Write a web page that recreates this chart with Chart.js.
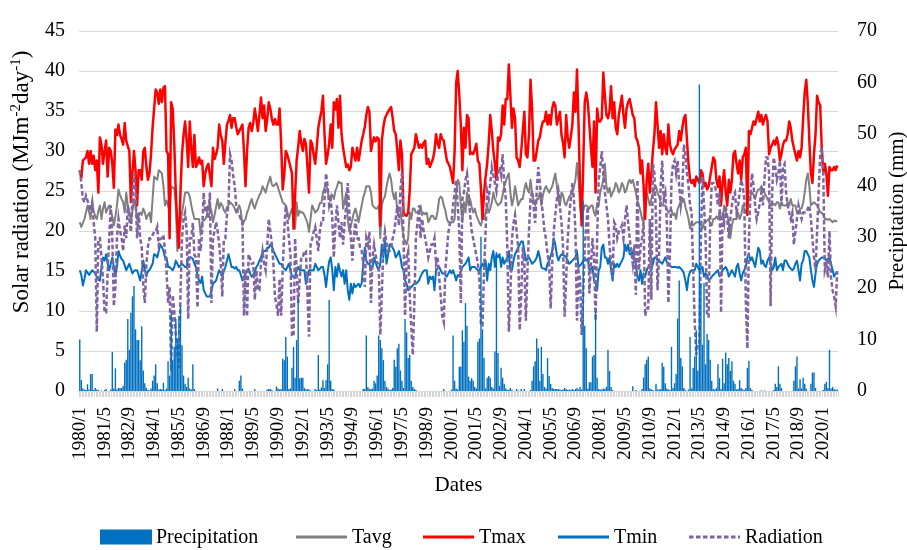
<!DOCTYPE html>
<html>
<head>
<meta charset="utf-8">
<script src="https://cdn.jsdelivr.net/npm/chart.js@4.4.1/dist/chart.umd.min.js"></script>
<style>
html,body{margin:0;padding:0;background:#fff;}
#wrap{width:907px;height:550px;}
</style>
</head>
<body>
<div id="wrap"><canvas id="c" width="907" height="550"></canvas></div>
<script>
// ---- Tick labels shown on the date axis ----
const tickLabels = ['1980/1','1981/5','1982/9','1984/1','1985/5','1986/9','1988/1','1989/5','1990/9','1992/1','1993/5','1994/9','1996/1','1997/5','1998/9','2000/1','2001/5','2002/9','2004/1','2005/5','2006/9','2008/1','2009/5','2010/9','2012/1','2013/5','2014/9','2016/1','2017/5','2018/9','2020/1'];

// ---- Monthly series, 1980/1 .. 2020/10 ----
const tmax = [
27.6,26.6,28.8,29,29.2,30,28.4,30,28.4,29.4,27.6,28.8, // 1980
24.8,31.7,30.8,28.4,30,31.3,26.8,30.4,30,28.4,25.4,32.7, // 1981
32,33.3,32,31.5,30.8,33.5,31.3,30.6,30,23.6,27.2,30, // 1982
27.6,23.2,27.6,27.6,26.4,30,30.4,28,26.4,27.2,29.6,32.9, // 1983
35.3,37.7,37.3,35.9,37.7,36.1,37.9,38.1,30,29.6,19.1,36.1, // 1984
35.3,30.8,24.8,20.7,17.9,24.8,29.6,32,33.7,31.3,28,33.7, // 1985
30.4,28,32,28,28.4,29.2,28.4,28.8,25.6,27.2,28,28.4, // 1986
27,25.6,30.4,29,29.6,30.4,33.3,32,31.3,28.4,31,33.3, // 1987
33.8,34.5,32.9,34.1,34.1,33,32.1,32.5,32.9,33.3,30,25.6, // 1988
30,32.9,33.5,32.5,33.5,35.3,34,32.5,34.5,36.7,34.1,35.7, // 1989
32.5,34,36.1,35.3,34,33.3,34,33.3,33.3,35.3,30.9,25.2, // 1990
27,30,29.5,28.8,28,27.2,20.3,24.4,28.8,30.5,32.5,31, // 1991
30,31.5,30.9,28,24.8,31.3,30.9,29.5,28.4,30.5,32.9,34, // 1992
35,36.9,32.1,28.4,29.5,30.9,33.3,30.4,36.1,35.2,36.5,32.9, // 1993
36.9,32.1,30.4,29.2,28,28.3,27.6,28,30.4,29.6,28.8,30.4, // 1994
28.8,30,31.3,32.1,33,34.5,35.5,34.9,30,31,31.7,31.2, // 1995
31.7,31.5,20.7,31.3,33,34.1,34.5,34.9,35.2,35.5,34.1,32.5, // 1996
32.1,30,27.6,31.3,29.6,22.3,22,21.9,22.3,25,29.6,30, // 1997
30.4,32.1,31.2,30.4,30.8,30.4,31,31.3,28.4,29,28,28.5, // 1998
29,30,32.1,31,30.4,32.1,31.5,31.3,30,28.8,28.4,28, // 1999
27,26,30,38.5,40,37,33.3,27.6,32.9,30.4,34.5,34.1, // 2000
29.6,29.8,29.6,30.2,30.9,28.8,28.4,25.2,21.5,24.8,26.8,28.4, // 2001
31,34.5,32.5,30,28.4,26.4,31.7,31.3,32.1,35.7,33.3,36.5, // 2002
36.5,40.8,36.9,32.9,35.3,34.1,29.2,28.8,28,30,32.5,34.9, // 2003
29.6,29.2,32.1,38.9,35.3,28.8,28.8,30,31.3,31.7,32.9,33.7, // 2004
33.7,34.9,33.3,34.5,33.3,35.3,36.1,35.7,33.3,34.1,34.9,32, // 2005
31,29.2,34.5,31.7,30.4,31.8,33.3,37.3,34.9,40.2,33.3,25.2, // 2006
20.7,28,36.1,37.3,36,33.3,30.4,28,33.7,24.8,35.3,33.7, // 2007
33.7,34.1,39.8,36.9,34.5,34.1,35,38.1,34.1,36.1,32.9,32.1, // 2008
34.5,35.7,36.9,34.5,32.9,35.3,36.1,36.5,35.5,34.5,34.1,31.7, // 2009
31.3,30.4,27.2,28.8,25.6,21.5,26.4,28.4,24.8,27.2,30,32.1, // 2010
36.1,33.3,30.4,32.5,29.6,32.1,30.4,29.6,33.3,30.8,30,29.6, // 2011
30.2,30.5,30.8,32.5,31.3,32.9,34.1,34.5,31.3,28.4,26.4,26, // 2012
26.4,25.6,26.8,26.4,26,27.6,27.2,25.6,26,25.2,25.6,26.8, // 2013
28,29.2,28.8,26.4,25.5,26.8,23.2,26,27.6,24.8,23.2,26.4, // 2014
24.8,26.4,29.6,30,28.4,27.2,28.8,26.4,29.2,29.6,30.4,22, // 2015
32.5,32.1,32.9,33.7,33.3,34.1,34.9,33.7,34.5,33.3,34,34.5, // 2016
33.7,29.6,30.4,30.8,31.3,30.8,31.7,30.8,28.8,29.6,30.8,31.3, // 2017
31.3,32.1,33.7,32.9,31.3,30.4,29.6,28.8,30,29.2,30.4,34.1, // 2018
37.3,38.9,36,31.3,27.2,26,29.6,32.1,36.9,36.1,35.7,30.4, // 2019
27.2,28.4,27.2,24.4,28,27.6,27.6,28,27.6,28.2 // 2020
];

const tavg = [
21.1,20.5,21,21.5,22.3,23.2,22.4,21.5,23.6,22.5,21.8,21.5, // 1980
22.5,23.2,21.5,22.8,23.6,22.3,22.8,23.2,22.5,21.8,20.7,21.8, // 1981
23.2,25.2,24.5,24,23.6,22.3,24.8,23.2,22.5,21.1,22.5,24, // 1982
23,21.5,22,22.3,22,22.8,22.3,21.5,22,22.3,21.1,24, // 1983
26.8,26.6,26.4,27.6,27.4,27.2,25.6,23.2,23.8,23.2,22.5,25.6, // 1984
25.4,25.4,23.2,17.5,19.9,21,22.3,23.5,24.8,24.8,24.8,24.3, // 1985
23.2,22.3,21.5,21.5,21.5,21.5,19.5,21.1,21.3,21.5,21.9,23.2, // 1986
23.2,22.5,21.1,22,23,24,22.8,23.5,23.2,22.6,22.3,23, // 1987
23.2,23.6,23.4,23.2,22.8,22.3,22.8,23.2,22.5,20.7,21.2,21.5, // 1988
22.3,22.8,23.5,24,23.2,22.8,23.5,24,24.5,24.8,25.6,25.2, // 1989
24.8,25.6,26.2,26.8,25.8,25.6,25.8,26,25.4,24.8,24.2,23.6, // 1990
23.4,23.2,22.4,21.5,22.2,22.8,21.5,20.3,23.6,21.9,22.5,22.3, // 1991
22.3,22,21.5,21,19.9,21.5,23.2,22.8,22.3,22.5,22.8,23.5, // 1992
23.5,24.8,25.4,26,25,24,24.3,24.5,24,25,25.5,26.2, // 1993
26,26,22.8,23.8,24.8,21.5,19.9,20.7,21.5,22.3,22.8,22, // 1994
21.1,22.2,23.2,24.2,24.8,25.6,25.6,25.6,24.8,23.2,23,22.8, // 1995
22.8,23.2,19.1,23.2,24,24.3,25.5,26.5,27.2,26.4,24.8,24, // 1996
24.8,22.3,22.5,22.8,20.7,19.1,18.8,18.3,19.1,22.3,21.5,22.8, // 1997
22.8,22.3,22.3,22.3,23.2,22,22.3,22.1,22.3,21.1,21.5,21.9, // 1998
21.9,21.5,21.5,22.5,24,24.3,24.1,23.2,22.6,21.5,21.1,21.1, // 1999
21.1,21.1,21.5,24.8,26.4,26,23.2,21.1,23.6,22.3,24.8,23.2, // 2000
24,23,22.3,22.8,22,21.5,21,20.7,21.5,21.5,22.3,23.2, // 2001
22.3,22.8,23.6,24.8,24,23.5,23.2,23.4,23.6,24.5,25.6,26.2, // 2002
26.8,27.2,24.8,23.2,24,25.6,24.5,23.2,23.6,24,24,25.2, // 2003
26,25.2,24.8,26.4,24.8,23.8,23.2,24,24,24.8,23.2,24.5, // 2004
25.2,25.6,25.2,24.8,25.2,25.6,26.4,27.2,25.6,24,23.2,24.8, // 2005
24.5,23.5,23.2,23.8,24.3,24.5,24.8,25.5,26.4,28.5,26.4,23, // 2006
21.5,22.5,23.2,23.2,23,22.8,23.2,23.2,22.3,21.9,23.5,23.2, // 2007
24.8,25.6,26.4,28.4,25.6,24.8,25.4,24.3,24.8,25.2,26,25.6, // 2008
24.8,25.2,26,25.6,24.8,25.2,26,26.4,26,26.4,25.6,24.8, // 2009
23.8,23.2,22.5,21.5,21.1,24,24.8,24,23.2,24,24.8,25.2, // 2010
25.6,24.8,24.3,23.6,23.2,23.2,23.2,22.8,22.3,22.5,22.6,22, // 2011
22.2,21.5,22.8,23.2,23.8,23.6,24,23,22.3,21.5,20.3,21, // 2012
20.7,20.9,21.1,21.1,21.1,20.7,20.3,21,21.1,21.3,21.5,20.9, // 2013
20.7,21.5,21.5,21.8,21.5,22.3,21.5,21.5,23.2,22.3,22,21.1, // 2014
19.1,20.7,21.5,21.5,21.5,22.3,21.5,22,23.2,22.8,22.3,23.2, // 2015
24,24.4,24.8,24.5,24,24.8,25.2,25.2,25.6,25.2,24.8,24.4, // 2016
24,23.6,23.2,23.2,23.4,23.2,23.6,23.6,22.8,23.6,23.2,23.2, // 2017
23.2,23.6,23.2,24,23.2,23.2,23.2,22.3,22.3,22.8,22.8,23.5, // 2018
24.8,26.4,27.2,25.6,23.2,23.4,23.6,23.4,23.2,22.8,22.3,22.3, // 2019
22,21.5,21.5,21.4,21.5,21.3,21.1,21.3,21.2,21.3 // 2020
];

const tmin = [
15.1,14.5,13.2,14,15.1,14.8,14.5,14.8,15.1,14.9,14.7,14.2, // 1980
13.9,13.8,15.5,16.7,16.3,17.1,15.9,15.1,15.9,16.7,15.5,14.3, // 1981
15.5,17.5,16.9,16.5,16.3,15.7,15.1,15.5,15.9,15.3,14.7,15, // 1982
15.1,15.1,14.5,13.8,15,16.3,15.2,14.3,15,15.1,15.5,15.9, // 1983
17.1,17,16.7,17.5,18.3,18,17.5,16.7,16.7,15.5,15.5,15.3, // 1984
15.1,15.5,16.3,15.9,15.5,15.7,15.9,15.7,15.5,15.5,16.7,16.7, // 1985
16.7,16.5,15.9,15.5,14.5,13.8,13.5,14.3,12.6,12.2,11.8,11.8, // 1986
11.8,12.5,13.4,13.6,13.8,14.5,15.1,14.7,14.3,15,15.5,16.3, // 1987
17.1,16.3,15.5,15.5,15.3,15.5,15.1,15.1,14.5,13.8,14.3,14.7, // 1988
15.1,15.3,14.7,14.3,14.5,14.9,15.5,15.8,16.3,16.7,17.3,17.5, // 1989
17.5,17.9,17.9,18.3,18.1,17.5,17.1,16.7,16.3,15.9,15.9,15.5, // 1990
15.3,15.1,15.5,15.9,15.1,14.3,14.3,14.3,15.1,15.5,15.1,15.1, // 1991
15.1,15.1,13.4,14.2,15.1,15.1,15.1,15.1,15.9,15.5,15.1,15.3, // 1992
15.5,15.5,14.5,13,14.8,16.2,16.7,15.1,12.6,15.5,14.3,15.9, // 1993
15,14.3,15.1,13.4,15.1,12.6,11.4,13.4,12.2,13.4,13,13.2, // 1994
13.4,13,13.5,15.9,17.9,16.3,15.9,15.9,15.1,15.5,16.7,16, // 1995
15.5,15.1,15.9,18.3,16.7,19.1,15.9,17,18.3,18.3,17.9,17.5, // 1996
16.7,17,17.5,16.7,15.5,15.1,13.8,13.4,12.6,12.8,13,13.2, // 1997
13.4,13.4,13.6,13.8,14.3,14.7,15,15.1,15.1,13.4,14.3,14, // 1998
14.3,12.6,15.1,15.3,15.5,15.1,14.7,14.7,14.5,14.3,14.7,15.1, // 1999
14.7,15.1,14.5,13.8,14.5,14.3,15,15.5,15.7,15.9,16.3,16.7, // 2000
15.1,15.5,15.5,15.5,15.3,15.1,15.1,15.5,15.9,15.5,16.3,13.8, // 2001
15.9,15.1,16.7,17.5,15.5,17.1,16.7,17.1,15.5,16.7,15.9,16.3, // 2002
16.7,17.5,15.1,15.1,16.3,17.1,17.5,17.9,18.3,18.7,18.7,17.5, // 2003
16.3,16.5,16.7,16.3,15.9,16.1,16.3,16.7,17.5,16.7,15.5,15.3, // 2004
15.3,15.1,15.9,16.3,16.9,17.5,19.1,18.3,17,16.3,16.8,17.1, // 2005
17,16.9,16.7,16.3,15.9,16.1,16.3,16.5,16.7,17.5,15.5,15.7, // 2006
15.9,16.3,16.7,16.3,16.5,15.1,15.3,15.5,13.8,13.6,12.6,15.1, // 2007
15.5,17.9,18.3,16.7,16.7,15.9,16.7,15.1,13.8,15.9,15.5,15.9, // 2008
15.5,15.9,16.3,16.7,18.3,17.5,18.3,17.1,17.1,17.5,16.3,15.9, // 2009
14.3,13.8,15.1,13.4,14.7,14.3,15.1,15.5,15.5,15.1,15.9,16.7, // 2010
16.7,16.3,16.3,16.1,15.9,16.3,16.7,16.1,15.9,15.7,15.5,15.5, // 2011
15.5,15.5,15.4,15.5,15.3,15.1,14.7,13.8,12.6,14.3,14.9,15.1, // 2012
15.1,15.1,15.9,15.5,15.1,15.3,15.5,14.3,14.7,14.5,13.8,14, // 2013
14.3,14.5,14.7,14.9,15.1,14.3,14.7,15.1,15.3,15.5,15.1,14.3, // 2014
14.7,15.1,14.7,14.3,15.5,15.9,14.7,13.8,14.7,15.1,15.5,16.7, // 2015
17.1,16.3,16.7,16.1,15.5,16.7,17.9,17.5,15.9,16.3,15.7,15.5, // 2016
16.3,16.7,15.9,15.1,15.5,16.7,15.1,15.5,15.7,15.9,15.1,16.3, // 2017
16.3,15.9,15.5,15.3,15.1,15.3,15.9,16.3,15.1,13.8,15.9,16.3, // 2018
17.5,17.5,17.1,16.7,15.1,13.8,13,14.7,15.9,16.3,16.5,16.7, // 2019
16.7,16.5,16.3,16.5,16.7,15.9,15.1,14.3,14.7,14.9 // 2020
];

const radiation = [
27.6,26,24,23.6,24.4,23.8,23.2,22.5,23.6,21,19.1,7.4, // 1980
19,19.1,16.7,14,9.8,9.8,15,19.1,23.2,19.1,10.6,13, // 1981
19.1,21.5,20,19.1,17.5,20.7,19.1,23.2,21.5,19.9,24,27.2, // 1982
24.8,19.1,22.3,19.1,18,13,11,15.9,18,19.1,19.1,19.5, // 1983
19.9,19.9,20.5,18.2,19,19.1,19.5,17.5,15,11,13,2.5, // 1984
12,10,7,4.7,2.9,12,19.1,21.5,22.3,20,9,19.1, // 1985
19.1,21,17,16.7,10.4,19.1,17.5,20,24.8,22.3,23.2,21.5, // 1986
24.8,11,19.1,20,21.1,20,18.3,16,11.8,19,19.1,22, // 1987
23.2,29.6,28.8,27,25.6,23.2,22.3,22,21.5,21.5,9.4,15.1, // 1988
9.3,17.1,16.5,15.9,16,11.4,15.1,12.6,12.6,16,17.5,16, // 1989
15.1,18,21.5,20,18.3,16,11.8,10.8,9.4,14,9.4,15.1, // 1990
20,23.2,21.5,19.1,17,7,6.8,19.1,15,11,14,16.7, // 1991
16.7,17.5,17.5,12,6.8,18.3,19,19.9,20.5,19.1,17.5,20, // 1992
21.1,21.1,24,27.2,25.6,23.2,24,21.5,16.7,20.7,23.2,21.1, // 1993
19.1,21.1,18.3,21.1,23.2,26,22.5,19.1,16.3,19.5,21.5,19.1, // 1994
19.1,17.9,17.5,15.9,13,19.1,18.3,19.9,11,16.7,18.3,17, // 1995
16,15.9,7,12,18.3,19.9,18.5,17.5,17.5,18,19.1,19.9, // 1996
21.5,23.2,20.7,25.2,27.2,19.1,9.4,16.7,17.5,12,8,4.5, // 1997
11,19.1,21,23.2,19.1,21.5,20,19.1,18,16.7,17.5,18.3, // 1998
18.3,19.1,15.9,16.7,14.2,12,9.4,8.6,15.1,17.5,19.9,21, // 1999
21.1,23.2,24.8,26.4,23.2,19.9,11,24,24.8,26.4,27.2,25, // 2000
22,20,19,18,17,16,14,8.2,8.2,15,20,25, // 2001
24,26,28,27,26,25,27,28,27,29.6,26,24, // 2002
18,7.4,12,19,21,22,20,18,7.6,12,18,16, // 2003
8.8,15,20,24,25,23,21,25,28,26,24,22, // 2004
20,19,17,16,10.3,16,20,22,24,25,23,21, // 2005
18,9.3,14,19,22,24,26,24,20,8.8,15,14, // 2006
7,12,18,21,23,12.2,15.9,19.1,16.7,8.8,19.1,26.4, // 2007
28,30,27,24.8,23.2,21.5,18.3,15.9,14.2,21.1,20.7,19.1, // 2008
19.9,20.2,20.7,19.1,21.5,23.2,21.1,19.1,17.5,15.9,18.3,12, // 2009
26.4,15.1,18,19.1,21.1,9.4,10.3,10.3,21.5,11.4,28.4,27.2, // 2010
21.5,12.6,17.1,25.6,28.8,24,24.8,21.1,11,17.1,26.4,28.4, // 2011
28.8,27.2,28.8,25.6,23.2,24.8,30.8,29.6,27.2,25.6,23.2,22.3, // 2012
15.1,8.6,4.5,5.9,5.9,19.1,26.8,23.2,19.1,9.3,9.3,21.5, // 2013
26,26,25.6,24.8,23.2,24.8,9.8,22.3,21.1,23.2,21.5,19.1, // 2014
21.5,23.2,24.4,24.8,22.3,23.2,24.8,26.4,25.6,24,11,5.3, // 2015
19.1,24.8,27.2,25.6,23.2,21.5,22.3,23.5,24.8,23.2,26.4,29.2, // 2016
29.2,27.2,10.6,24.8,29.2,28,26.4,27.2,28.8,23.2,28,28.4, // 2017
24.8,23.2,22.3,21.5,22.3,18.3,19.9,21.5,23.2,22.3,21.5,22.3, // 2018
22.3,22.3,22.8,23.2,21.5,19.1,16.7,15.1,19.9,24.8,29.6,30.4, // 2019
27.2,15.1,15.9,14.2,20,14.2,12.6,11.8,10.6,15 // 2020
];

const precipitation = [
10,2.1,0.5,0.3,0.2,1.3,0.3,3.3,3.3,0.2,0.6,0.3, // 1980
0.2,0,0.1,0,0.2,0.4,0,0,0.3,7.6,0.5,4.4, // 1981
0.3,0.6,0.6,0.6,1,5.5,6.1,14,8,15.2,18.4,20.4, // 1982
12,9.9,9.9,6,12.6,4,1.5,0.6,0.2,0.1,0.5,2, // 1983
3,5.2,1.5,0.3,0.4,0.3,1.6,0.2,0.5,5.8,3,15.2, // 1984
6,8.6,14,10.2,14.6,16.6,8.9,3,1.4,0.8,2.6,0.5, // 1985
0.3,5.2,0.4,0,0,0,0,0,0,0,0,0, // 1986
0,0,0,0,0,0.5,0,0,0.4,0,0,0, // 1987
0,0,0,0,0.4,0,0,2,3,0.5,0,0, // 1988
0,0,0,0,0,0.4,0,0,0,0,0,0, // 1989
0,0.3,0.4,0.4,0.2,0,0,0.9,0.5,0.3,0.4,6.3, // 1990
6,10.5,6.7,0.4,0.5,4.5,8.6,2.6,9.9,17.9,2.5,2.6, // 1991
2.6,0.6,0.3,0.4,0.3,0.1,0,0,0.4,0.2,7,0.3, // 1992
0.7,2.1,0.6,2.1,5.2,17.7,2,0.4,0.3,0,0,0, // 1993
0,0,0,0,0,0,0,0,0,0,0,0, // 1994
0,0,0,0.4,0.4,10.8,0.8,0.4,0.4,0.5,2,1.5, // 1995
3,10.8,9.9,8.3,6,2,0.8,0.5,0.2,0.3,0.6,6.1, // 1996
4.7,8.3,9.2,4,2,0.6,14,11.4,6.4,7,2,0.8, // 1997
0.4,0.2,0,0,0,0,0,0,0,0,0,0, // 1998
0,0,0,0,0,0,0,0.4,0,0,0,0, // 1999
0.3,10.8,2,0.5,0.3,4.7,4.7,11.8,9.6,17.1,12.7,2.8, // 2000
2,2.5,2,0.8,0.5,9.6,10.2,30,12,6.4,0.5,2.6, // 2001
2.9,2.6,0.8,0.5,7.7,27,7.4,1,4.5,2.6,1.4,0.5, // 2002
0.2,0.3,0.6,0.2,0,0,0.4,0.1,0,0.4,0,0.4, // 2003
0,0,0,0.2,2,4.8,5.8,10.2,8.3,2,8.6,3.3, // 2004
0.8,0.5,6.4,2.9,1.4,0.6,0.4,0.4,0.4,0.4,0.3,0.2, // 2005
0.3,0.6,0.4,0.2,0.3,0.2,0.4,0.2,0.4,0.6,0.3,0.8, // 2006
0.3,37,12.7,8.3,0.5,1.7,1.7,6.7,7,15.5,2.6,0.4, // 2007
0.3,0.3,0.5,0.4,0.8,8,3.9,0.8,0.2,0,0,0, // 2008
0,0,0,0,0,0,0,0,0,0.9,0,0.2, // 2009
0,0,0,0.4,2.6,5.2,6.1,6.7,0.5,0.3,0.2,0, // 2010
1.4,0.3,0.3,0.4,5.5,4.7,1.5,0.5,0.3,0.2,8.6,0.6, // 2011
1.5,3.3,14.1,21.5,6.4,4.8,0.6,0.2,0,0.3,10.5,0.5, // 2012
4.5,6.7,11.8,4,59.6,21,9,21,5.2,11.1,9.9,6.1, // 2013
2,0.4,0.3,0.6,5.2,2.5,0.4,6.3,1.5,7.5,5.2,6.4, // 2014
3.9,5.8,2,1.4,0.3,0.4,2.1,0.6,0.3,0.2,0.6,4.5, // 2015
5.9,0.6,0.2,0,0,0,0,0,0.1,0,0.1,0, // 2016
0,0,0,0,0.2,1.4,0.8,4.8,1.4,0.6,0,0, // 2017
0,0,0,0,0,2,4.8,6.7,0.5,2.3,0.5,2.6, // 2018
1.4,0.5,0,0,1.4,3.6,3.6,0.6,0,0,0,0, // 2019
0.2,1.4,1.8,0.6,8,0.5,0.8,0.4,0.2,0.3 // 2020
];

// ---- Category labels: year/month for every month ----
const categories = [];
for (let y = 1980; categories.length < precipitation.length; y++) {
  for (let m = 1; m <= 12 && categories.length < precipitation.length; m++) categories.push(y + '/' + m);
}

const FONT = 'Liberation Serif';
const legendX = [100, 296, 423, 558, 689];

const annotations = {
  id: 'annotations',
  beforeDraw(chart) {
    const c = chart.ctx;
    c.save(); c.fillStyle = '#fff'; c.fillRect(0, 0, chart.width, chart.height); c.restore();
  },
  afterDraw(chart) {
    const c = chart.ctx;
    const area = chart.chartArea;
    c.save();
    c.fillStyle = '#000';
    // left axis title with superscripts
    const parts = [['Solar radiation (MJm', 0], ['-2', 1], ['day', 0], ['-1', 1], [')', 0]];
    const fN = '23px "' + FONT + '"', fS = '15px "' + FONT + '"';
    let W = 0;
    parts.forEach(p => { c.font = p[1] ? fS : fN; W += c.measureText(p[0]).width; });
    c.save();
    c.translate(21, 182);
    c.rotate(-Math.PI / 2);
    c.textBaseline = 'alphabetic';
    c.textAlign = 'left';
    let x = -W / 2;
    parts.forEach(p => {
      c.font = p[1] ? fS : fN;
      c.fillText(p[0], x, p[1] ? -1 : 7);
      x += c.measureText(p[0]).width;
    });
    c.restore();
    // right axis title
    c.save();
    c.translate(897, (area.top + area.bottom) / 2);
    c.rotate(-Math.PI / 2);
    c.font = '21px "' + FONT + '"'; c.textAlign = 'center'; c.textBaseline = 'middle';
    c.fillText('Precipitation (mm)', 0, 0);
    c.restore();
    // legend
    const ly = 537;
    c.font = '20px "' + FONT + '"';
    c.textBaseline = 'middle'; c.textAlign = 'left';
    chart.data.datasets.forEach((ds, i) => {
      const lx = legendX[i];
      if (ds.type === 'bar') {
        c.fillStyle = ds.backgroundColor;
        c.fillRect(lx, ly - 7.5, 52, 15);
      } else {
        c.strokeStyle = ds.borderColor;
        c.lineWidth = 3;
        c.setLineDash(ds.borderDash || []);
        c.beginPath(); c.moveTo(lx, ly); c.lineTo(lx + 51, ly); c.stroke();
        c.setLineDash([]);
      }
      c.fillStyle = '#000';
      c.fillText(ds.label, lx + 56, ly + 1);
    });
    c.restore();
  }
};

new Chart(document.getElementById('c'), {
  type: 'bar',
  data: {
    labels: categories,
    datasets: [
      { type: 'bar', label: 'Precipitation', data: precipitation, yAxisID: 'y1',
        backgroundColor: '#0070C0', borderWidth: 0, barPercentage: 0.9, categoryPercentage: 1, order: 0 },
      { type: 'line', label: 'Tavg', data: tavg, yAxisID: 'y', borderColor: '#808080', borderWidth: 2,
        pointRadius: 0, tension: 0, borderJoinStyle: 'round', fill: false, order: 4 },
      { type: 'line', label: 'Tmax', data: tmax, yAxisID: 'y', borderColor: '#FF0000', borderWidth: 2.5,
        pointRadius: 0, tension: 0, borderJoinStyle: 'round', fill: false, order: 3 },
      { type: 'line', label: 'Tmin', data: tmin, yAxisID: 'y', borderColor: '#0070C0', borderWidth: 2,
        pointRadius: 0, tension: 0, borderJoinStyle: 'round', fill: false, order: 2 },
      { type: 'line', label: 'Radiation', data: radiation, yAxisID: 'y', borderColor: '#8064A2', borderWidth: 2.5,
        borderDash: [4.5, 2.5], pointRadius: 0, tension: 0, fill: false, order: 1 }
    ]
  },
  options: {
    responsive: false,
    animation: false,
    devicePixelRatio: 1,
    layout: { padding: { top: 20, bottom: 52, left: 0, right: 0 } },
    plugins: { legend: { display: false }, tooltip: { enabled: false } },
    scales: {
      x: {
        offset: true,
        grid: { display: true, drawOnChartArea: false, drawTicks: true, tickLength: 6, color: '#D4D4D4', offset: true },
        border: { display: true, color: '#D9D9D9' },
        ticks: {
          autoSkip: false, maxRotation: 90, minRotation: 90, padding: 10, color: '#000',
          font: { family: FONT, size: 19 },
          callback: function (v) { const l = this.getLabelForValue(v); return tickLabels.includes(l) ? l : ''; }
        },
        title: { display: true, text: 'Dates', color: '#000', font: { family: FONT, size: 21 }, padding: 0 },
        afterFit: s => { s.height = 107; }
      },
      y: {
        position: 'left', min: 0, max: 45,
        ticks: { stepSize: 5, padding: 14, color: '#000', font: { family: FONT, size: 20 } },
        grid: { color: '#D9D9D9', drawTicks: false },
        border: { display: false },
        afterFit: s => { s.width = 79; }
      },
      y1: {
        position: 'right', min: 0, max: 70,
        ticks: { stepSize: 10, padding: 19, color: '#000', font: { family: FONT, size: 20 } },
        grid: { display: false, drawTicks: false },
        border: { display: false },
        afterFit: s => { s.width = 69; }
      }
    }
  },
  plugins: [annotations]
});
</script>
</body>
</html>
